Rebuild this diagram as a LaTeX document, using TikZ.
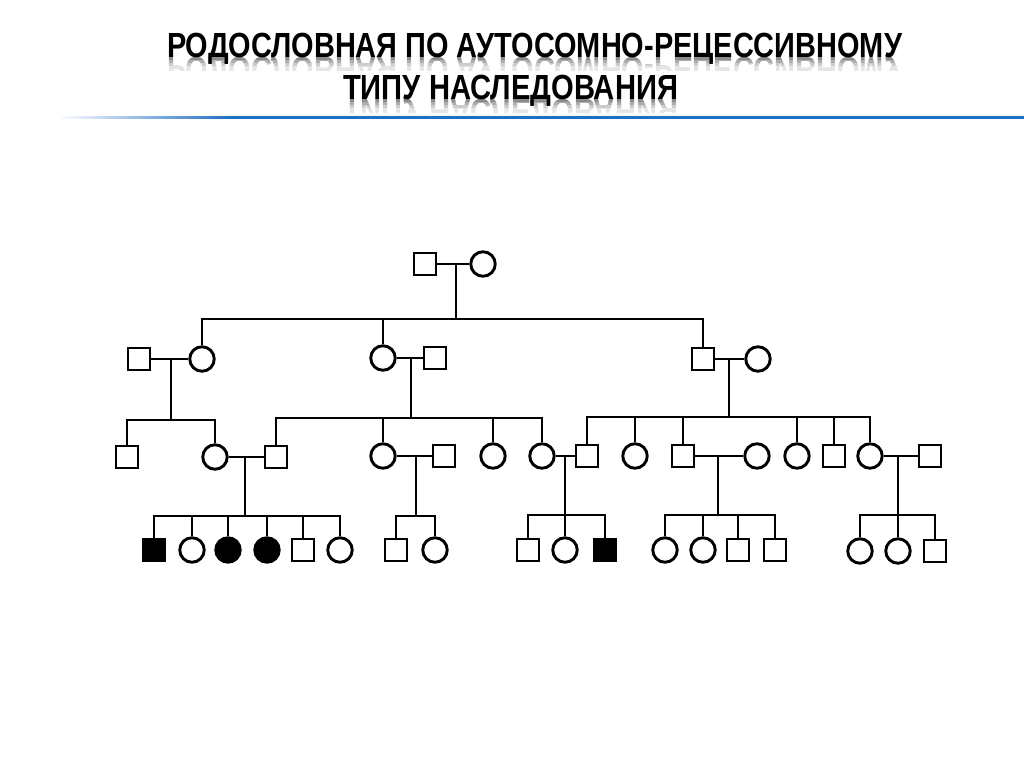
\documentclass[tikz,border=0pt]{standalone}
\usepackage{fontspec}
\setmainfont{Liberation Sans}
\usepackage{graphicx}
\definecolor{tblue}{RGB}{30,110,195}
\newcommand\titleone{\resizebox{735pt}{\height}{\fontsize{34.9pt}{36pt}\selectfont\bfseries РОДОСЛОВНАЯ ПО АУТОСОМНО-РЕЦЕССИВНОМУ}}
\newcommand\titletwo{\resizebox{335pt}{\height}{\fontsize{34.9pt}{36pt}\selectfont\bfseries ТИПУ НАСЛЕДОВАНИЯ}}
\begin{document}
\begin{tikzpicture}[x=1pt,y=-1pt,line width=2.9pt,
  msq/.style={draw,rectangle,minimum size=22pt,inner sep=0pt},
  fcir/.style={draw,circle,minimum size=24.5pt,inner sep=0pt},
  aff/.style={fill=black},
  ttl/.style={anchor=base west,inner sep=0pt,outer sep=0pt}]
\useasboundingbox (0,0) rectangle (1024,767);
\fill[white] (0,0) rectangle (1024,767);
% title reflections (fading bands)
\foreach \a/\b/\g in {58/61/45,61/64/32,64/67/20,67/71/10}{
  \begin{scope}
    \clip (0,\a) rectangle (1024,\b);
    \node[ttl,text=black!\g] (r1) at (167,58) {\scalebox{1}[-1]{\titleone}};
  \end{scope}
  \begin{scope}
    \pgfmathsetmacro\aa{\a+42}\pgfmathsetmacro\bb{\b+42}
    \clip (0,\aa) rectangle (1024,\bb);
    \node[ttl,text=black!\g] (r2) at (343,100) {\scalebox{1}[-1]{\titletwo}};
  \end{scope}
}
\node[ttl] (t1) at (167,58) {\titleone};
\node[ttl] (t2) at (343,100) {\titletwo};
% blue rule with a fade-in on the left
\foreach \i in {0,...,29}{
  \pgfmathsetmacro\xa{55+6*\i}\pgfmathsetmacro\xb{61.5+6*\i}\pgfmathsetmacro\p{100*\i/29}
  \fill[tblue!\p!white] (\xa,116) rectangle (\xb,118.8);
}
\fill[tblue] (235,116) rectangle (1024,118.8);

% Generation I
\node[msq] (a1) at (425,264) {};
\node[fcir] (a2) at (483,264) {};
\coordinate (ka) at (456,264);
\coordinate (sa) at (456,319);
\draw (a1) -- (a2);
\draw (ka) -- (sa);

% Generation II
\node[msq] (b1) at (139,359) {};
\node[fcir] (b2) at (202,359) {};
\node[fcir] (b3) at (383,358) {};
\node[msq] (b4) at (435,358) {};
\node[msq] (b5) at (703,359) {};
\node[fcir] (b6) at (758,359) {};
\foreach \c in {b2,b3,b5} \draw (\c.north) |- (sa);
\draw (b1) -- (b2);
\draw (b3) -- (b4);
\draw (b5) -- (b6);
\coordinate (kb1) at (171,359); \coordinate (sb1) at (171,420);
\coordinate (kb2) at (411,358); \coordinate (sb2) at (411,418);
\coordinate (kb3) at (729,359); \coordinate (sb3) at (729,417);
\draw (kb1) -- (sb1);
\draw (kb2) -- (sb2);
\draw (kb3) -- (sb3);

% Generation III
\node[msq] (c1) at (127,457) {};
\node[fcir] (c2) at (215,457) {};
\node[msq] (c3) at (276,457) {};
\node[fcir] (c4) at (383,456) {};
\node[msq] (c5) at (444,456) {};
\node[fcir] (c6) at (493,456) {};
\node[fcir] (c7) at (542,456) {};
\node[msq] (c8) at (587,456) {};
\node[fcir] (c9) at (635,456) {};
\node[msq] (c10) at (683,456) {};
\node[fcir] (c11) at (757,456) {};
\node[fcir] (c12) at (797,456) {};
\node[msq] (c13) at (834,456) {};
\node[fcir] (c14) at (870,456) {};
\node[msq] (c15) at (930,456) {};
\foreach \c in {c1,c2} \draw (\c.north) |- (sb1);
\foreach \c in {c3,c4,c6,c7} \draw (\c.north) |- (sb2);
\foreach \c in {c8,c9,c10,c12,c13,c14} \draw (\c.north) |- (sb3);
\draw (c2) -- (c3);
\draw (c4) -- (c5);
\draw (c7) -- (c8);
\draw (c10) -- (c11);
\draw (c14) -- (c15);
\coordinate (kc1) at (245,457); \coordinate (sc1) at (245,516);
\coordinate (kc2) at (416,456); \coordinate (sc2) at (416,516);
\coordinate (kc3) at (565,456); \coordinate (sc3) at (565,515);
\coordinate (kc4) at (718,456); \coordinate (sc4) at (718,515);
\coordinate (kc5) at (898,456); \coordinate (sc5) at (898,515);
\draw (kc1) -- (sc1);
\draw (kc2) -- (sc2);
\draw (kc3) -- (sc3);
\draw (kc4) -- (sc4);
\draw (kc5) -- (sc5);

% Generation IV
\node[msq,aff] (d1) at (154,550) {};
\node[fcir] (d2) at (192,550) {};
\node[fcir,aff] (d3) at (228,550) {};
\node[fcir,aff] (d4) at (267,550) {};
\node[msq] (d5) at (303,550) {};
\node[fcir] (d6) at (340,550) {};
\node[msq] (d7) at (396,550) {};
\node[fcir] (d8) at (435,550) {};
\node[msq] (d9) at (528,550) {};
\node[fcir] (d10) at (565,550) {};
\node[msq,aff] (d11) at (605,550) {};
\node[fcir] (d12) at (665,550) {};
\node[fcir] (d13) at (703,550) {};
\node[msq] (d14) at (738,550) {};
\node[msq] (d15) at (775,550) {};
\node[fcir] (d16) at (860,551) {};
\node[fcir] (d17) at (898,551) {};
\node[msq] (d18) at (935,551) {};
\foreach \c in {d1,d2,d3,d4,d5,d6} \draw (\c.north) |- (sc1);
\foreach \c in {d7,d8} \draw (\c.north) |- (sc2);
\foreach \c in {d9,d10,d11} \draw (\c.north) |- (sc3);
\foreach \c in {d12,d13,d14,d15} \draw (\c.north) |- (sc4);
\foreach \c in {d16,d17,d18} \draw (\c.north) |- (sc5);
\end{tikzpicture}
\end{document}
